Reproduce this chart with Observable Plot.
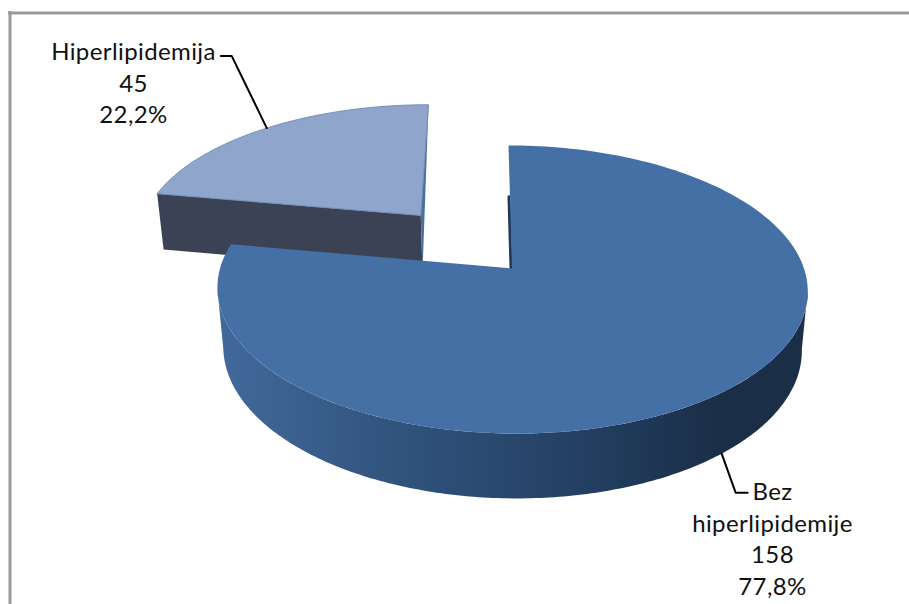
<!DOCTYPE html>
<html>
<head>
<meta charset="utf-8">
<style>html,body{margin:0;padding:0;background:#fff;overflow:hidden}svg{display:block}</style>
<script src="https://cdn.jsdelivr.net/npm/d3@7"></script>
<script src="https://cdn.jsdelivr.net/npm/@observablehq/plot@0.6"></script>
</head>
<body>
<script>
// Data
const names = ["Bez\nhiperlipidemije", "Hiperlipidemija"];
const counts = [158, 45];
const shares = ["77,8%", "22,2%"];

// Style and layout
const W = 909, H = 604;
const cx = 511.5, cy = 268, R = 292, S = 141, k = 0.1458, lean = 4, m = 0.02, depth = 60;
const explode = {u: -0.325, v: -0.398};
const labelAt = [[772, 537], [133, 81]];
const font = "Lato, 'Open Sans', sans-serif";
const colors = {mainTop: "#4570a5", lightTop: "#8fa5cb", lightFront: "#3b4254", lightSide: "#4a6e9e", sliver: "#1f3857", frame: "#999999"};

// Project a position on the pie (unit disc, z 0 = top, z 1 = bottom) into chart units
function project(u, v, z) {
  const w = 1 - k * v + m * z;
  return {x: cx + (R * u + lean * v) / w, y: cy + (S * v + depth * z) / w};
}
const rim = (deg, z, off = {u: 0, v: 0}, r = 1) => {
  const a = deg * Math.PI / 180;
  return project(off.u + r * Math.sin(a), off.v - r * Math.cos(a), z);
};
const arc = (a0, a1, z, off) => d3.range(0, 201).map(i => rim(a0 + (a1 - a0) * i / 200, z, off));

const total = d3.sum(counts);
const split = counts[0] / total * 360;
const noOff = {u: 0, v: 0};
// Angles where the disc's outline is widest: the wall's silhouette turns there
const turn = Math.acos(-k) * 180 / Math.PI;

const mainTop = [...arc(0, split, 0, noOff), rim(0, 0, noOff, 0)];
const mainWall = [...arc(turn, 360 - turn, 0, noOff), ...arc(360 - turn, turn, 1, noOff)];
const lightTop = [...arc(split, 360, 0, explode), rim(0, 0, explode, 0)];
const lightFront = [rim(split, 0, explode), rim(0, 0, explode, 0), rim(0, 1, explode, 0), rim(split, 1, explode)];
const lightSide = [rim(360, 0, explode), rim(0, 0, explode, 0), rim(0, 1, explode, 0)];
const sliver = [rim(0, 0, noOff, 0.55), rim(0, 0, noOff, 0)];

const midMain = split / 2, midLight = (split + 360) / 2;
const lead0 = rim(midMain, 1);
const lead1 = rim(midLight, 0, explode);
const leaderMain = [lead0, {x: lead0.x + 14, y: lead0.y + 39}, {x: lead0.x + 26, y: lead0.y + 39}];
const leaderLight = [lead1, {x: lead1.x - 35, y: lead1.y - 72}, {x: lead1.x - 46, y: lead1.y - 72}];

const labels = names.map((n, i) => ({text: `${n}\n${counts[i]}\n${shares[i]}`, x: labelAt[i][0], y: labelAt[i][1]}));

const gradient = () => {
  const defs = d3.create("svg:defs");
  const g = defs.append("linearGradient").attr("id", "wall").attr("x1", 0).attr("x2", 1).attr("y1", 0).attr("y2", 0);
  [[0, "#41699a"], [0.15, "#3a5f8c"], [0.35, "#2e5079"], [0.55, "#274468"], [0.72, "#1f3857"], [0.85, "#1b2e47"], [1, "#1b2e47"]]
    .forEach(([o, c]) => g.append("stop").attr("offset", o).attr("stop-color", c));
  return defs.node();
};
const poly = (pts, fill, extra = {}) => Plot.line([...pts, pts[0]], {x: "x", y: "y", fill, stroke: "none", ...extra});

const chart = Plot.plot({
  width: W, height: H, margin: 0,
  x: {domain: [0, W], range: [0, W], axis: null},
  y: {domain: [0, H], range: [0, H], axis: null},
  style: {background: "#fff", overflow: "hidden", letterSpacing: "0.4px"},
  marks: [
    gradient,
    Plot.ruleY([12.5], {x1: 8, x2: W, stroke: colors.frame, strokeWidth: 3}),
    Plot.ruleX([9.5], {y1: 11, y2: H, stroke: colors.frame, strokeWidth: 3}),
    poly(lightSide, colors.lightSide),
    poly(lightFront, colors.lightFront),
    poly(lightTop, colors.lightTop, {stroke: "#6f8db8", strokeWidth: 1}),
    poly(mainWall, "url(#wall)"),
    Plot.line(sliver, {x: "x", y: "y", stroke: colors.sliver, strokeWidth: 3, dx: -1}),
    poly(mainTop, colors.mainTop),
    Plot.line(leaderMain, {x: "x", y: "y", stroke: "#000", strokeWidth: 2}),
    Plot.line(leaderLight, {x: "x", y: "y", stroke: "#000", strokeWidth: 2}),
    Plot.text(labels, {x: "x", y: "y", text: "text", textAnchor: "middle", lineAnchor: "middle", lineHeight: 1.32, fontSize: 24, fontFamily: font, fill: "#111"})
  ]
});
document.body.append(chart);
</script>
</body>
</html>
